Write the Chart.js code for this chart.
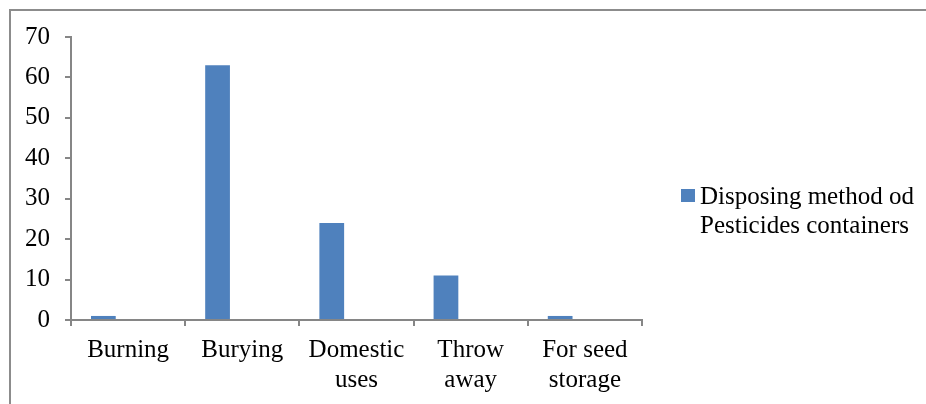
<!DOCTYPE html>
<html>
<head>
<meta charset="utf-8">
<script src="https://cdn.jsdelivr.net/npm/chart.js"></script>
<style>
  html, body { margin: 0; padding: 0; background: #fff; overflow: hidden; }
  #wrap { position: relative; width: 926px; height: 404px; overflow: hidden; }
  #frame {
    position: absolute; left: 9px; top: 9px; width: 2000px; height: 2000px;
    border-left: 2px solid #8c8c8c; border-top: 2px solid #8c8c8c;
  }
  #chart { position: absolute; left: 0; top: 0; }
  #legend {
    position: absolute; left: 681px; top: 181px;
    font-family: "Liberation Serif", "Times New Roman", serif; font-size: 25px; line-height: 29px;
    color: #000;
  }
  #legend .box { position: absolute; left: 0; top: 8px; width: 14px; height: 13px; }
  #legend .txt { position: absolute; left: 19px; top: 0; width: 225px; }
</style>
</head>
<body>
<div id="wrap">
  <div id="frame"></div>
  <canvas id="chart" width="926" height="404"></canvas>
  <div id="legend"></div>
</div>
<script>
const categories = ['Burning', 'Burying', ['Domestic', 'uses'], ['Throw', 'away'], ['For seed', 'storage']];
const seriesName = 'Disposing method od Pesticides containers';
const seriesValues = [1, 63, 24, 11, 1];
const yTicks = { min: 0, max: 70, step: 10 };

const barColor = '#4F81BD';
const axisColor = '#868686';
const font = { family: '"Liberation Serif", "Times New Roman", serif', size: 25 };

// two blank series keep the bar in the first slot of each group
const blank = categories.map(() => null);

const ctx = document.getElementById('chart').getContext('2d');
const chart = new Chart(ctx, {
  type: 'bar',
  data: {
    labels: categories,
    datasets: [
      { label: seriesName, data: seriesValues, backgroundColor: barColor, borderWidth: 0 },
      { label: '', data: blank },
      { label: '', data: blank }
    ]
  },
  options: {
    responsive: false,
    animation: false,
    devicePixelRatio: 1,
    categoryPercentage: 0.65,
    barPercentage: 1,
    layout: { padding: { left: 0, top: 37, right: 284, bottom: 0 } },
    plugins: { legend: { display: false }, tooltip: { enabled: false } },
    scales: {
      x: {
        grid: { offset: true, drawOnChartArea: false, color: axisColor, lineWidth: 2, tickLength: 6 },
        border: { color: axisColor, width: 2 },
        ticks: { color: '#000', font: font, padding: 9, maxRotation: 0, autoSkip: false },
        afterFit: s => { s.height = 84; }
      },
      y: {
        min: yTicks.min,
        max: yTicks.max,
        grid: { drawOnChartArea: false, color: axisColor, lineWidth: 2, tickLength: 6 },
        border: { color: axisColor, width: 2 },
        ticks: { stepSize: yTicks.step, color: '#000', font: font, padding: 15 },
        afterFit: s => { s.width = 71; }
      }
    }
  }
});

// legend for the single visible series
const ds = chart.data.datasets[0];
document.getElementById('legend').innerHTML =
  '<div class="box" style="background:' + ds.backgroundColor + '"></div>' +
  '<div class="txt">' + ds.label + '</div>';
</script>
</body>
</html>
